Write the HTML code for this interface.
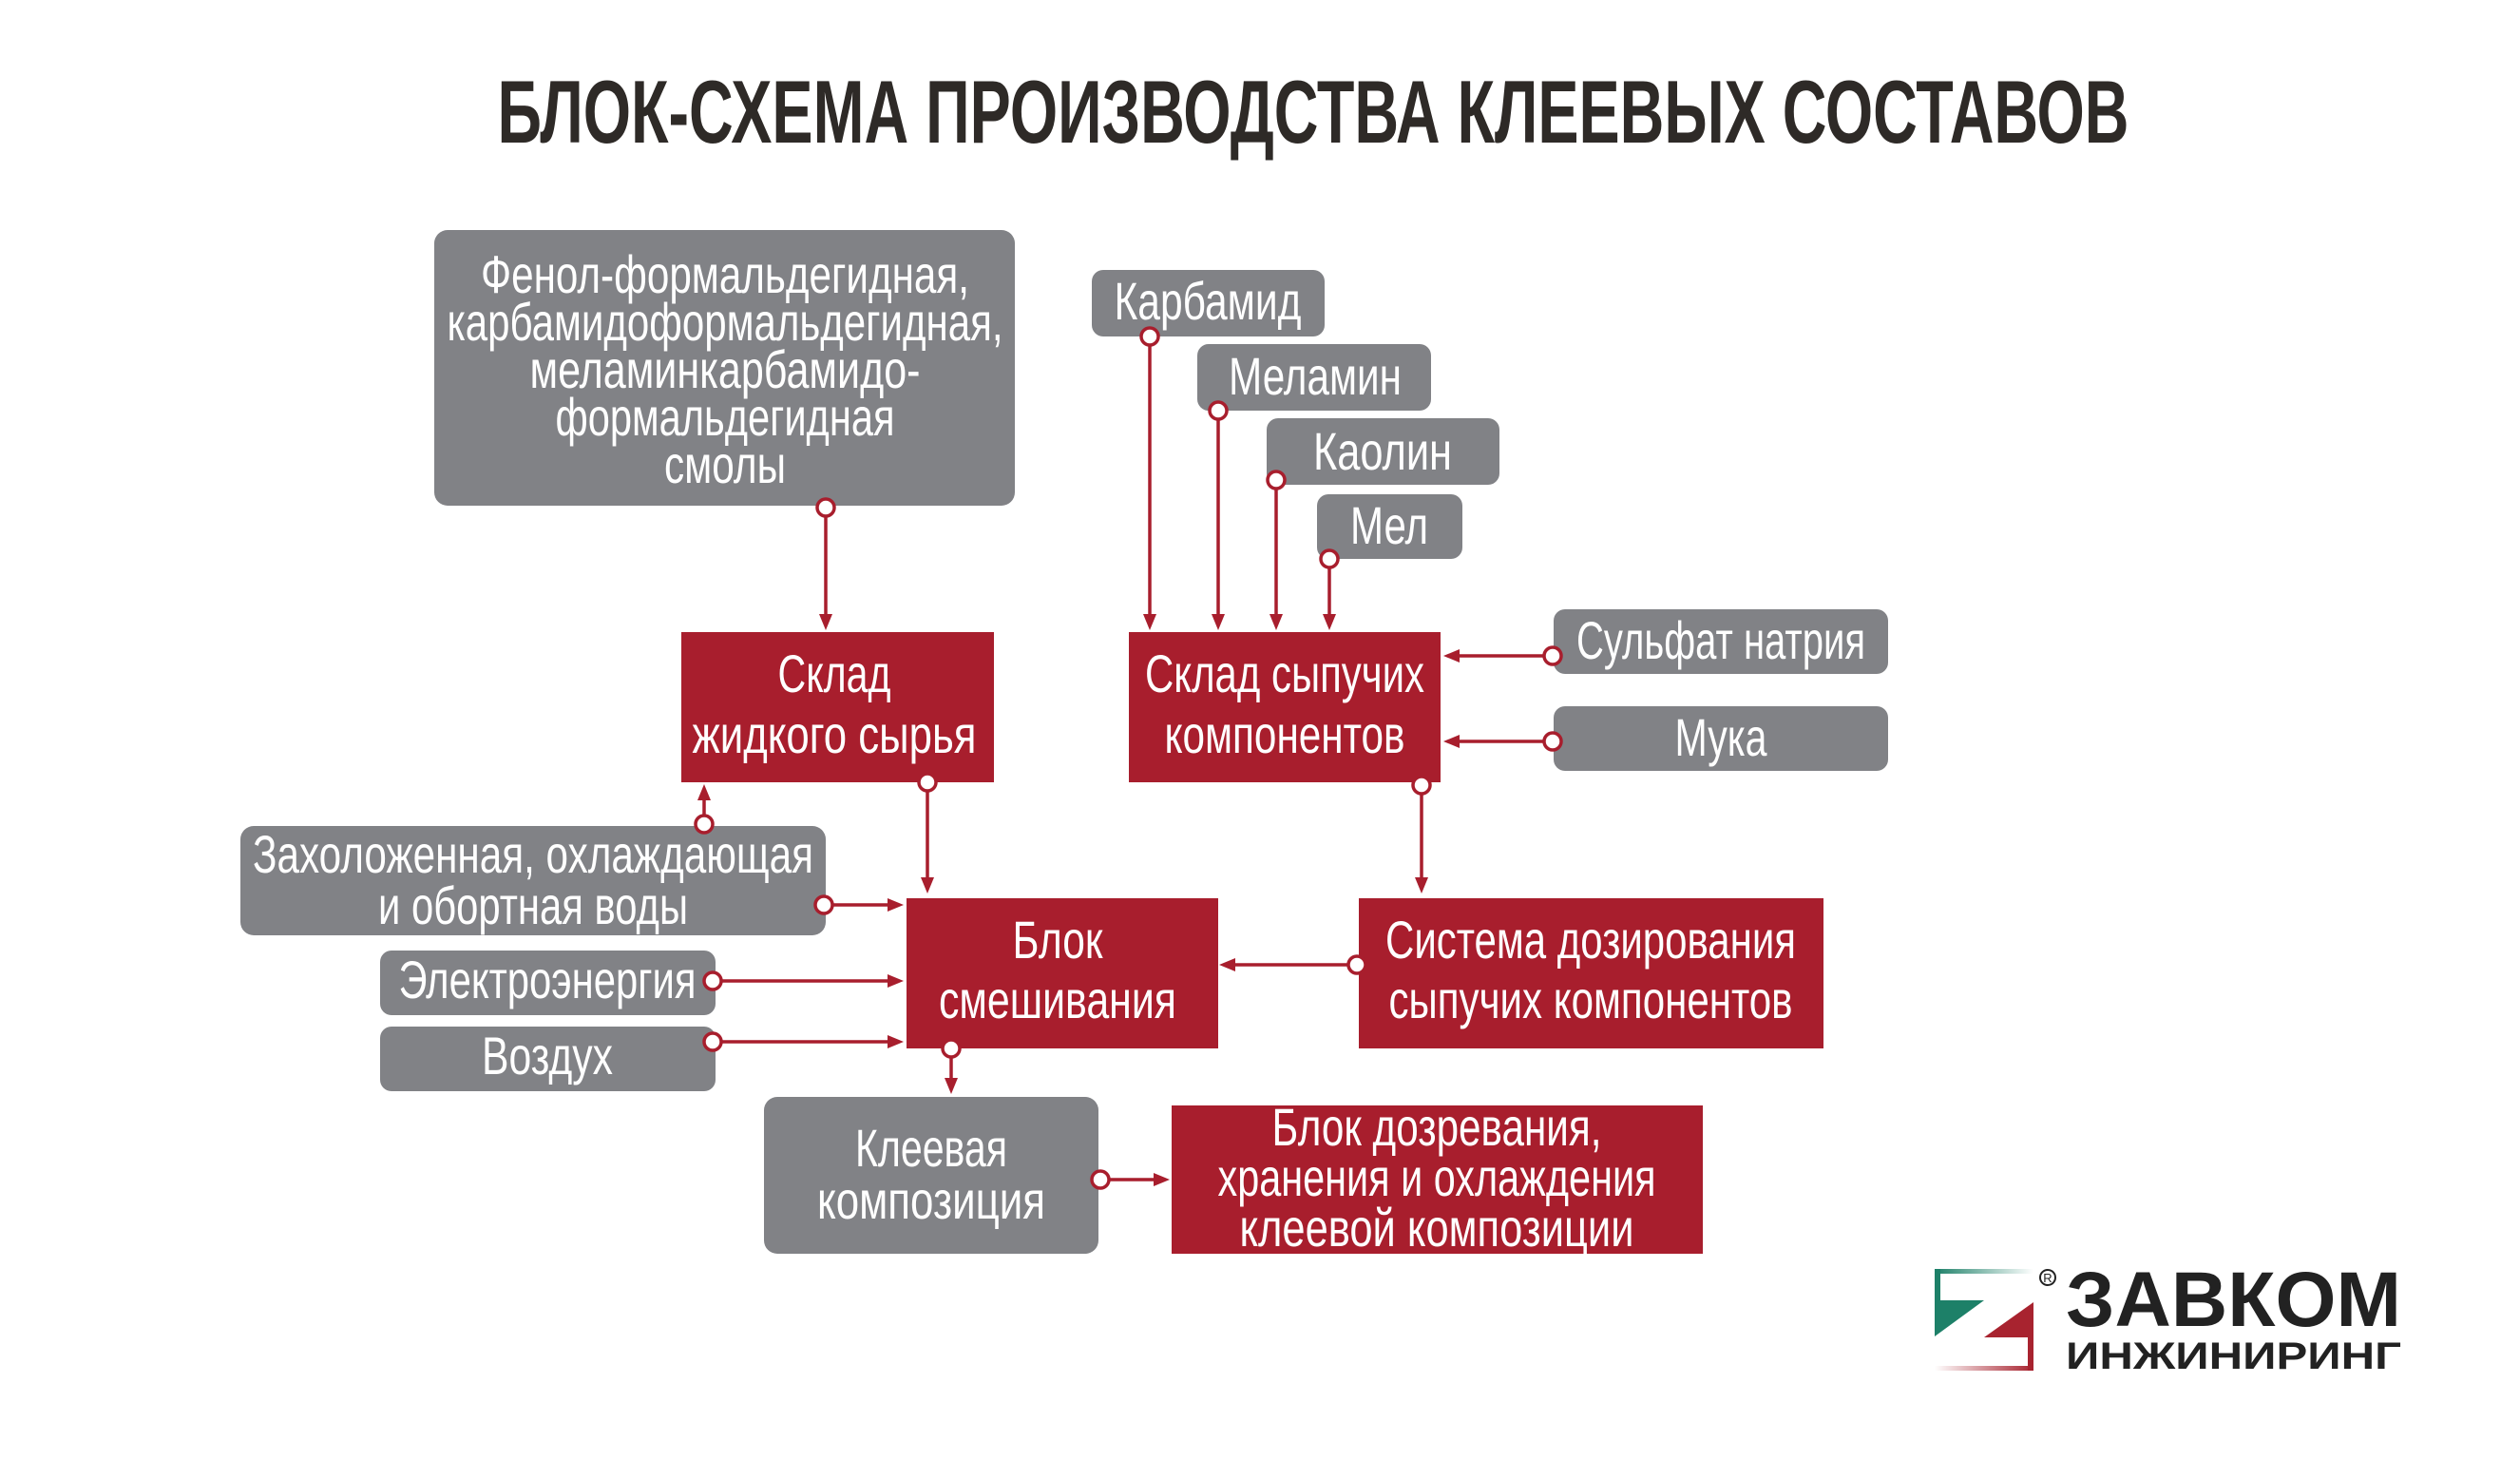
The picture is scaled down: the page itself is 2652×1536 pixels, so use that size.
<!DOCTYPE html>
<html><head><meta charset="utf-8"><style>
html,body{margin:0;padding:0;background:#fff;}
svg{display:block;}
text{font-family:"Liberation Sans Narrow","Liberation Sans",sans-serif;}
.w{fill:#fff;font-size:56px;}
</style></head><body>
<svg width="2652" height="1536" viewBox="0 0 2652 1536" xmlns="http://www.w3.org/2000/svg">
<defs>
<marker id="ar" markerWidth="8" markerHeight="8" refX="7" refY="4" orient="auto" markerUnits="userSpaceOnUse" viewBox="0 0 8 8">
</marker>
<linearGradient id="gg" x1="0" x2="1"><stop offset="0" stop-color="#1d8068"/><stop offset="1" stop-color="#1d8068" stop-opacity="0"/></linearGradient>
<linearGradient id="rg" x1="0" x2="1"><stop offset="0" stop-color="#a8232f" stop-opacity="0"/><stop offset="1" stop-color="#a8232f"/></linearGradient>
</defs>
<text x="1382" y="150" text-anchor="middle" font-size="94" font-weight="bold" fill="#2e2a27" textLength="1717" lengthAdjust="spacingAndGlyphs">БЛОК-СХЕМА ПРОИЗВОДСТВА КЛЕЕВЫХ СОСТАВОВ</text>

<g fill="#818286">
<rect x="457" y="242" width="611" height="290" rx="14"/>
<rect x="1149" y="284" width="245" height="70" rx="12"/>
<rect x="1260" y="362" width="246" height="70" rx="12"/>
<rect x="1333" y="440" width="245" height="70" rx="12"/>
<rect x="1386" y="520" width="153" height="68" rx="12"/>
<rect x="1635" y="641" width="352" height="68" rx="12"/>
<rect x="1635" y="743" width="352" height="68" rx="12"/>
<rect x="253" y="869" width="616" height="115" rx="14"/>
<rect x="400" y="1000" width="353" height="68" rx="12"/>
<rect x="400" y="1080" width="353" height="68" rx="12"/>
<rect x="804" y="1154" width="352" height="165" rx="14"/>
</g>
<g fill="#a81e2d">
<rect x="717" y="665" width="329" height="158"/>
<rect x="1188" y="665" width="328" height="158"/>
<rect x="954" y="945" width="328" height="158"/>
<rect x="1430" y="945" width="489" height="158"/>
<rect x="1233" y="1163" width="559" height="156"/>
</g>

<g class="w" text-anchor="middle">
<text x="763" y="308" textLength="514" lengthAdjust="spacingAndGlyphs" class="w">Фенол-формальдегидная,</text>
<text x="763" y="358" textLength="585" lengthAdjust="spacingAndGlyphs" class="w">карбамидоформальдегидная,</text>
<text x="763" y="408" textLength="411" lengthAdjust="spacingAndGlyphs" class="w">меламинкарбамидо-</text>
<text x="763" y="458" textLength="357" lengthAdjust="spacingAndGlyphs" class="w">формальдегидная</text>
<text x="763" y="508" textLength="128" lengthAdjust="spacingAndGlyphs" class="w">смолы</text>
<text x="1271" y="336" textLength="197" lengthAdjust="spacingAndGlyphs" class="w">Карбамид</text>
<text x="1384" y="415" textLength="182" lengthAdjust="spacingAndGlyphs" class="w">Меламин</text>
<text x="1455" y="494" textLength="146" lengthAdjust="spacingAndGlyphs" class="w">Каолин</text>
<text x="1462" y="572" textLength="82" lengthAdjust="spacingAndGlyphs" class="w">Мел</text>
<text x="1811" y="693" textLength="304" lengthAdjust="spacingAndGlyphs" class="w">Сульфат натрия</text>
<text x="1811" y="795" textLength="97" lengthAdjust="spacingAndGlyphs" class="w">Мука</text>
<text x="878" y="728" textLength="119" lengthAdjust="spacingAndGlyphs" class="w">Склад</text>
<text x="878" y="792" textLength="299" lengthAdjust="spacingAndGlyphs" class="w">жидкого сырья</text>
<text x="1352" y="728" textLength="294" lengthAdjust="spacingAndGlyphs" class="w">Склад сыпучих</text>
<text x="1352" y="792" textLength="253" lengthAdjust="spacingAndGlyphs" class="w">компонентов</text>
<text x="561" y="918" textLength="590" lengthAdjust="spacingAndGlyphs" class="w">Захоложенная, охлаждающая</text>
<text x="561" y="972" textLength="326" lengthAdjust="spacingAndGlyphs" class="w">и обортная воды</text>
<text x="576" y="1050" textLength="313" lengthAdjust="spacingAndGlyphs" class="w">Электроэнергия</text>
<text x="576" y="1130" textLength="138" lengthAdjust="spacingAndGlyphs" class="w">Воздух</text>
<text x="1113" y="1008" textLength="95" lengthAdjust="spacingAndGlyphs" class="w">Блок</text>
<text x="1113" y="1071" textLength="250" lengthAdjust="spacingAndGlyphs" class="w">смешивания</text>
<text x="1674" y="1008" textLength="432" lengthAdjust="spacingAndGlyphs" class="w">Система дозирования</text>
<text x="1674" y="1071" textLength="425" lengthAdjust="spacingAndGlyphs" class="w">сыпучих компонентов</text>
<text x="980" y="1227" textLength="160" lengthAdjust="spacingAndGlyphs" class="w">Клеевая</text>
<text x="980" y="1282" textLength="240" lengthAdjust="spacingAndGlyphs" class="w">композиция</text>
<text x="1512" y="1205" textLength="347" lengthAdjust="spacingAndGlyphs" class="w">Блок дозревания,</text>
<text x="1512" y="1258" textLength="461" lengthAdjust="spacingAndGlyphs" class="w">хранения и охлаждения</text>
<text x="1512" y="1311" textLength="415" lengthAdjust="spacingAndGlyphs" class="w">клеевой композиции</text>
</g>

<g stroke="#a81e2d" stroke-width="3.5" fill="none">
<line x1="869" y1="544" x2="869" y2="650"/>
<line x1="1210" y1="364" x2="1210" y2="650"/>
<line x1="1282" y1="442" x2="1282" y2="650"/>
<line x1="1343" y1="515" x2="1343" y2="650"/>
<line x1="1399" y1="598" x2="1399" y2="650"/>
<line x1="1624" y1="690" x2="1532" y2="690"/>
<line x1="1624" y1="780" x2="1532" y2="780"/>
<line x1="976" y1="833" x2="976" y2="926"/>
<line x1="741" y1="857" x2="741" y2="838"/>
<line x1="877" y1="952" x2="936" y2="952"/>
<line x1="760" y1="1032" x2="936" y2="1032"/>
<line x1="760" y1="1096" x2="936" y2="1096"/>
<line x1="1496" y1="833" x2="1496" y2="926"/>
<line x1="1418" y1="1015" x2="1298" y2="1015"/>
<line x1="1001" y1="1113" x2="1001" y2="1137"/>
<line x1="1168" y1="1241" x2="1216" y2="1241"/>
</g>
<g fill="#a81e2d">
<polygon points="862,646 876,646 869,663"/>
<polygon points="1203,646 1217,646 1210,663"/>
<polygon points="1275,646 1289,646 1282,663"/>
<polygon points="1336,646 1350,646 1343,663"/>
<polygon points="1392,646 1406,646 1399,663"/>
<polygon points="1536,683 1536,697 1519,690"/>
<polygon points="1536,773 1536,787 1519,780"/>
<polygon points="969,923 983,923 976,940"/>
<polygon points="734,842 748,842 741,825"/>
<polygon points="934,945 934,959 951,952"/>
<polygon points="934,1025 934,1039 951,1032"/>
<polygon points="934,1089 934,1103 951,1096"/>
<polygon points="1489,923 1503,923 1496,940"/>
<polygon points="1300,1008 1300,1022 1283,1015"/>
<polygon points="994,1134 1008,1134 1001,1151"/>
<polygon points="1214,1234 1214,1248 1231,1241"/>
</g>
<g fill="#fff" stroke="#a81e2d" stroke-width="3.5">
<circle cx="869" cy="534" r="9"/>
<circle cx="1210" cy="354" r="9"/>
<circle cx="1282" cy="432" r="9"/>
<circle cx="1343" cy="505" r="9"/>
<circle cx="1399" cy="588" r="9"/>
<circle cx="1634" cy="690" r="9"/>
<circle cx="1634" cy="780" r="9"/>
<circle cx="976" cy="823" r="9"/>
<circle cx="741" cy="867" r="9"/>
<circle cx="867" cy="952" r="9"/>
<circle cx="750" cy="1032" r="9"/>
<circle cx="750" cy="1096" r="9"/>
<circle cx="1496" cy="826" r="9"/>
<circle cx="1428" cy="1015" r="9"/>
<circle cx="1001" cy="1103" r="9"/>
<circle cx="1158" cy="1241" r="9"/>
</g>

<!-- logo -->
<rect x="2036" y="1335" width="104" height="5" fill="url(#gg)"/>
<rect x="2036" y="1335" width="6" height="34" fill="#1d8068"/>
<polygon points="2036,1368 2088,1368 2036,1406" fill="#1d8068"/>
<polygon points="2140,1370 2140,1407 2088,1407" fill="#a8232f"/>
<rect x="2134" y="1405" width="6" height="37" fill="#a8232f"/>
<rect x="2036" y="1437" width="104" height="5" fill="url(#rg)"/>
<circle cx="2155" cy="1344" r="8" fill="none" stroke="#222" stroke-width="2"/>
<text x="2155" y="1349" text-anchor="middle" font-size="13" font-family="Liberation Sans" fill="#222">R</text>
<text x="2174" y="1395" font-size="82" font-weight="bold" fill="#222" font-family="Liberation Sans" textLength="353" lengthAdjust="spacingAndGlyphs">ЗАВКОМ</text>
<text x="2174" y="1440" font-size="40" font-weight="bold" fill="#222" font-family="Liberation Sans" textLength="353" lengthAdjust="spacingAndGlyphs">ИНЖИНИРИНГ</text>
</svg>
</body></html>
